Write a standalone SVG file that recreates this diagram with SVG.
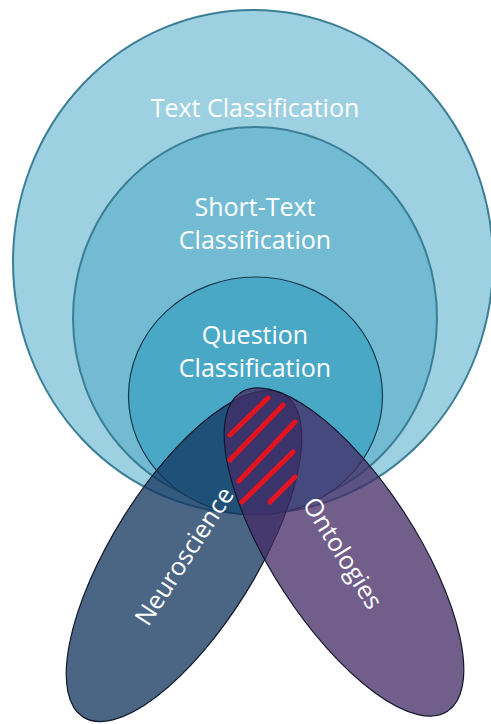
<svg xmlns="http://www.w3.org/2000/svg" width="491" height="724" viewBox="0 0 491 724">
  <style>
    .lbl { font-family: "Open Sans", "Liberation Sans", sans-serif; font-size: 25px; fill: #ffffff; text-anchor: middle; }
    .ring { stroke: #3b7f96; stroke-width: 2; }
    .core { stroke: #16394d; stroke-width: 1.2; }
    .lobe { stroke: #10192a; stroke-width: 1.2; }
    .hatch { stroke: #e3141f; stroke-width: 5; stroke-linecap: round; }
  </style>
  <rect width="491" height="724" fill="#ffffff"/>

  <!-- nested classification fields -->
  <g id="text-classification">
    <ellipse class="ring" cx="253" cy="262" rx="240" ry="252" fill="#9dd0e0"/>
    <text class="lbl" x="255" y="117">Text Classification</text>
  </g>
  <g id="short-text-classification">
    <ellipse class="ring" cx="255" cy="318" rx="182" ry="191" fill="#72bbd2"/>
    <text class="lbl" x="255" y="216">Short-Text</text>
    <text class="lbl" x="255" y="249">Classification</text>
  </g>
  <g id="question-classification">
    <ellipse class="core" cx="255.5" cy="396" rx="127" ry="119" fill="#4aa8c7"/>
    <text class="lbl" x="255" y="344">Question</text>
    <text class="lbl" x="255" y="377">Classification</text>
  </g>

  <!-- overlapping application domains -->
  <g id="neuroscience">
    <ellipse class="lobe" cx="184" cy="556" rx="190" ry="72" transform="rotate(-58 184 556)" fill="#13355e" fill-opacity="0.76"/>
  </g>
  <g id="ontologies">
    <ellipse class="lobe" cx="344" cy="552" rx="190" ry="72" transform="rotate(57 344 552)" fill="#442b65" fill-opacity="0.76"/>
  </g>

  <!-- hatching over the shared area -->
  <g id="overlap-hatch">
    <line class="hatch" x1="230" y1="435" x2="268" y2="398"/>
    <line class="hatch" x1="230" y1="460" x2="283" y2="405"/>
    <line class="hatch" x1="239" y1="481" x2="295" y2="422"/>
    <line class="hatch" x1="242" y1="502" x2="293" y2="452"/>
    <line class="hatch" x1="270" y1="502" x2="295" y2="477"/>
  </g>

  <g id="domain-labels">
    <text class="lbl" x="184" y="556" dy="9" transform="rotate(-57 184 556)">Neuroscience</text>
    <text class="lbl" x="343" y="553" dy="9" transform="rotate(58 343 553)">Ontologies</text>
  </g>
</svg>
